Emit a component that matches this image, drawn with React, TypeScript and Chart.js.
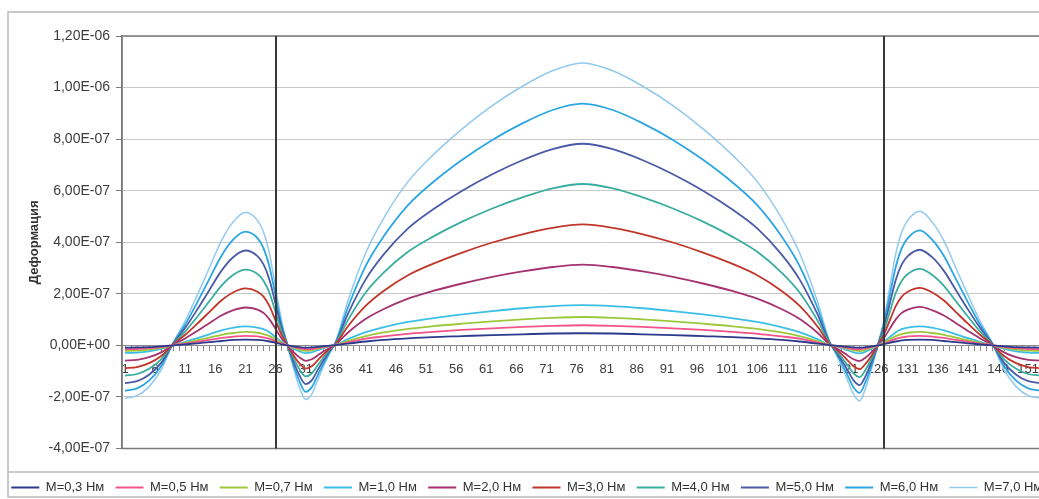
import React, { useEffect, useRef } from 'react';
import { Chart, registerables } from 'chart.js';

Chart.register(...registerables);

// category positions (x) where values were read
const positions = [
  1, 3, 5, 7, 9, 11, 13, 15, 17, 19, 21,
  23, 24, 25, 26, 27, 28, 29, 30, 31, 32, 33, 34, 35, 36,
  38, 41, 44, 48, 52, 57, 62, 67, 72, 77,
  82, 87, 92, 97, 102, 106, 110, 113, 116,
  118, 119, 120, 121, 122, 123, 124, 125, 126, 127, 128, 129, 130, 131,
  133, 135, 137, 139, 141, 143, 145, 147, 149, 151, 153,
];

// values in units of 1e-7
const m03 = [
  -0.09, -0.08, -0.07, -0.04, 0.0, 0.04, 0.08, 0.13, 0.17, 0.21, 0.22,
  0.21, 0.19, 0.15, 0.1, 0.04, 0, -0.04, -0.07, -0.09, -0.08, -0.06, -0.03, -0.01, 0.01,
  0.07, 0.15, 0.21, 0.27, 0.32, 0.36, 0.4, 0.43, 0.46, 0.47,
  0.46, 0.43, 0.4, 0.36, 0.32, 0.27, 0.21, 0.15, 0.07,
  0.01, -0.01, -0.03, -0.06, -0.08, -0.09, -0.07, -0.04, 0, 0.04, 0.1, 0.15, 0.19, 0.21,
  0.22, 0.21, 0.17, 0.13, 0.08, 0.04, 0.0, -0.04, -0.07, -0.08, -0.09,
];
const m05 = [
  -0.15, -0.14, -0.11, -0.07, 0.01, 0.07, 0.14, 0.21, 0.29, 0.34, 0.37,
  0.35, 0.31, 0.25, 0.16, 0.07, 0, -0.06, -0.12, -0.15, -0.14, -0.1, -0.06, -0.02, 0.01,
  0.12, 0.26, 0.35, 0.45, 0.52, 0.6, 0.66, 0.72, 0.76, 0.78,
  0.76, 0.72, 0.66, 0.6, 0.52, 0.45, 0.35, 0.26, 0.12,
  0.01, -0.02, -0.06, -0.1, -0.14, -0.15, -0.12, -0.06, 0, 0.07, 0.16, 0.25, 0.31, 0.35,
  0.37, 0.34, 0.29, 0.21, 0.14, 0.07, 0.01, -0.07, -0.11, -0.14, -0.15,
];
const m07 = [
  -0.21, -0.2, -0.16, -0.1, 0.01, 0.1, 0.2, 0.3, 0.41, 0.48, 0.52,
  0.49, 0.44, 0.36, 0.23, 0.1, 0, -0.09, -0.17, -0.21, -0.19, -0.14, -0.08, -0.03, 0.02,
  0.17, 0.36, 0.5, 0.64, 0.74, 0.84, 0.93, 1.01, 1.07, 1.1,
  1.07, 1.01, 0.93, 0.84, 0.74, 0.64, 0.5, 0.36, 0.17,
  0.02, -0.03, -0.08, -0.14, -0.19, -0.22, -0.17, -0.09, 0, 0.1, 0.23, 0.36, 0.44, 0.49,
  0.52, 0.48, 0.41, 0.3, 0.2, 0.1, 0.01, -0.1, -0.16, -0.2, -0.21,
];
const m10 = [
  -0.29, -0.28, -0.23, -0.14, 0.01, 0.14, 0.28, 0.43, 0.58, 0.69, 0.74,
  0.69, 0.63, 0.51, 0.32, 0.14, 0, -0.13, -0.24, -0.3, -0.27, -0.19, -0.11, -0.04, 0.02,
  0.24, 0.51, 0.71, 0.91, 1.05, 1.2, 1.33, 1.44, 1.52, 1.56,
  1.52, 1.44, 1.33, 1.2, 1.05, 0.91, 0.71, 0.51, 0.24,
  0.02, -0.04, -0.11, -0.19, -0.27, -0.31, -0.24, -0.13, 0, 0.14, 0.32, 0.51, 0.63, 0.69,
  0.74, 0.69, 0.58, 0.43, 0.28, 0.14, 0.01, -0.14, -0.23, -0.28, -0.29,
];
const m20 = [
  -0.59, -0.56, -0.46, -0.27, 0.03, 0.27, 0.56, 0.86, 1.16, 1.37, 1.47,
  1.39, 1.26, 1.01, 0.64, 0.27, 0, -0.26, -0.47, -0.6, -0.54, -0.39, -0.23, -0.09, 0.04,
  0.49, 1.03, 1.41, 1.81, 2.1, 2.4, 2.66, 2.87, 3.04, 3.13,
  3.04, 2.87, 2.66, 2.4, 2.1, 1.81, 1.41, 1.03, 0.49,
  0.04, -0.09, -0.23, -0.39, -0.54, -0.61, -0.47, -0.26, 0, 0.27, 0.64, 1.01, 1.26, 1.39,
  1.49, 1.37, 1.16, 0.86, 0.56, 0.27, 0.03, -0.27, -0.46, -0.56, -0.59,
];
const m30 = [
  -0.88, -0.84, -0.69, -0.41, 0.04, 0.41, 0.84, 1.29, 1.74, 2.06, 2.21,
  2.08, 1.89, 1.52, 0.96, 0.41, 0, -0.39, -0.71, -0.9, -0.81, -0.58, -0.34, -0.13, 0.06,
  0.73, 1.54, 2.12, 2.72, 3.15, 3.6, 3.99, 4.31, 4.56, 4.69,
  4.56, 4.31, 3.99, 3.6, 3.15, 2.72, 2.12, 1.54, 0.73,
  0.06, -0.13, -0.34, -0.58, -0.81, -0.92, -0.71, -0.39, 0, 0.41, 0.96, 1.52, 1.89, 2.08,
  2.23, 2.06, 1.74, 1.29, 0.84, 0.41, 0.04, -0.41, -0.69, -0.84, -0.88,
];
const m40 = [
  -1.17, -1.11, -0.91, -0.54, 0.06, 0.54, 1.11, 1.71, 2.31, 2.74, 2.94,
  2.77, 2.51, 2.03, 1.29, 0.54, 0, -0.51, -0.94, -1.2, -1.09, -0.77, -0.46, -0.17, 0.09,
  0.97, 2.06, 2.83, 3.63, 4.2, 4.8, 5.31, 5.74, 6.09, 6.26,
  6.09, 5.74, 5.31, 4.8, 4.2, 3.63, 2.83, 2.06, 0.97,
  0.09, -0.17, -0.46, -0.77, -1.09, -1.23, -0.94, -0.51, 0, 0.54, 1.29, 2.03, 2.51, 2.77,
  2.97, 2.74, 2.31, 1.71, 1.11, 0.54, 0.06, -0.54, -0.91, -1.11, -1.17,
];
const m50 = [
  -1.46, -1.39, -1.14, -0.68, 0.07, 0.68, 1.39, 2.14, 2.89, 3.43, 3.68,
  3.46, 3.14, 2.54, 1.61, 0.68, 0, -0.64, -1.18, -1.5, -1.36, -0.96, -0.57, -0.21, 0.11,
  1.21, 2.57, 3.54, 4.54, 5.25, 6.0, 6.64, 7.18, 7.61, 7.82,
  7.61, 7.18, 6.64, 6.0, 5.25, 4.54, 3.54, 2.57, 1.21,
  0.11, -0.21, -0.57, -0.96, -1.36, -1.54, -1.18, -0.64, 0, 0.68, 1.61, 2.54, 3.14, 3.46,
  3.71, 3.43, 2.89, 2.14, 1.39, 0.68, 0.07, -0.68, -1.14, -1.39, -1.46,
];
const m60 = [
  -1.76, -1.67, -1.37, -0.81, 0.09, 0.81, 1.67, 2.57, 3.47, 4.11, 4.41,
  4.16, 3.77, 3.04, 1.93, 0.81, 0, -0.77, -1.41, -1.8, -1.63, -1.16, -0.69, -0.26, 0.13,
  1.46, 3.09, 4.24, 5.44, 6.3, 7.2, 7.97, 8.61, 9.13, 9.38,
  9.13, 8.61, 7.97, 7.2, 6.3, 5.44, 4.24, 3.09, 1.46,
  0.13, -0.26, -0.69, -1.16, -1.63, -1.84, -1.41, -0.77, 0, 0.81, 1.93, 3.04, 3.77, 4.16,
  4.46, 4.11, 3.47, 2.57, 1.67, 0.81, 0.09, -0.81, -1.37, -1.67, -1.76,
];
const m70 = [
  -2.05, -1.95, -1.6, -0.95, 0.1, 0.95, 1.95, 3.0, 4.05, 4.8, 5.15,
  4.85, 4.4, 3.55, 2.25, 0.95, 0.0, -0.9, -1.65, -2.1, -1.9, -1.35, -0.8, -0.3, 0.15,
  1.7, 3.6, 4.95, 6.35, 7.35, 8.4, 9.3, 10.05, 10.65, 10.95,
  10.65, 10.05, 9.3, 8.4, 7.35, 6.35, 4.95, 3.6, 1.7,
  0.15, -0.3, -0.8, -1.35, -1.9, -2.15, -1.65, -0.9, 0.0, 0.95, 2.25, 3.55, 4.4, 4.85,
  5.2, 4.8, 4.05, 3.0, 1.95, 0.95, 0.1, -0.95, -1.6, -1.95, -2.05,
];

const seriesValues = [m03, m05, m07, m10, m20, m30, m40, m50, m60, m70];
const seriesLabels = [
  'M=0,3 Нм', 'M=0,5 Нм', 'M=0,7 Нм', 'M=1,0 Нм', 'M=2,0 Нм',
  'M=3,0 Нм', 'M=4,0 Нм', 'M=5,0 Нм', 'M=6,0 Нм', 'M=7,0 Нм',
];
const seriesColors = [
  '#2b3a8c', '#f2548a', '#9dc83c', '#3cbfe6', '#a5336f',
  '#c2362a', '#39ad9f', '#4a5aa6', '#2ba6e2', '#92c9ee',
];
const UNIT = 1e-7;

const categoryCount = 153;
const categories = Array.from({ length: categoryCount }, (_, i) => i + 1);
const xLabelValues = [1, 6, 11, 16, 21, 26, 31, 36, 41, 46, 51, 56, 61, 66, 71, 76, 81, 86, 91, 96, 101, 106, 111, 116, 121, 126, 131, 136, 141, 146, 151];
const yTickValues = [-4e-7, -2e-7, 0, 2e-7, 4e-7, 6e-7, 8e-7, 1e-6, 1.2e-6];
const supports = [26, 127];

const FONT = '"Liberation Sans", Arial, sans-serif';

function fmtSci(v: number): string {
  if (Math.abs(v) < 1e-15) return '0,00E+00';
  const s = v.toExponential(2);
  const [mant, exp] = s.split('e');
  const e = parseInt(exp, 10);
  const sign = e < 0 ? '-' : '+';
  const ea = Math.abs(e).toString().padStart(2, '0');
  return mant.replace('.', ',') + 'E' + sign + ea;
}

const decorPlugin = {
  id: 'decor',
  beforeDraw(chart: any) {
    const { ctx } = chart;
    ctx.save();
    ctx.fillStyle = '#ffffff';
    ctx.fillRect(0, 0, chart.width, chart.height);
    ctx.strokeStyle = '#b8b8b8';
    ctx.lineWidth = 1.5;
    ctx.strokeRect(8, 12, chart.width, 485);
    ctx.beginPath();
    ctx.moveTo(8, 472);
    ctx.lineTo(chart.width, 472);
    ctx.stroke();
    ctx.restore();
  },
  afterDatasetsDraw(chart: any) {
    const { ctx, chartArea, scales } = chart;
    ctx.save();
    ctx.strokeStyle = '#7a7a7a';
    ctx.lineWidth = 1.5;
    ctx.strokeRect(chartArea.left, chartArea.top, chartArea.right - chartArea.left, chartArea.bottom - chartArea.top);
    ctx.strokeStyle = '#383838';
    ctx.lineWidth = 2;
    supports.forEach((s) => {
      const x = Math.round(scales.x.getPixelForValue(s));
      ctx.beginPath();
      ctx.moveTo(x, chartArea.top);
      ctx.lineTo(x, chartArea.bottom);
      ctx.stroke();
    });
    ctx.restore();
  },
};

export default function App() {
  const ref = useRef<HTMLCanvasElement>(null);

  useEffect(() => {
    const datasets = seriesValues.map((vals, i) => ({
      label: seriesLabels[i],
      data: positions.map((x, j) => ({ x, y: vals[j] * UNIT })),
      borderColor: seriesColors[i],
      backgroundColor: seriesColors[i],
      borderWidth: i === 9 ? 1.5 : 1.8,
      pointRadius: 0,
      fill: false,
      cubicInterpolationMode: 'monotone' as const,
    }));

    const chart = new Chart(ref.current as HTMLCanvasElement, {
      type: 'line',
      data: { datasets },
      plugins: [decorPlugin],
      options: {
        animation: false,
        responsive: true,
        maintainAspectRatio: false,
        layout: { padding: { left: 0, right: 0, top: 36, bottom: 0 } },
        plugins: {
          tooltip: { enabled: false },
          legend: {
            position: 'bottom',
            align: 'start',
            title: {
              display: true,
              text: '',
              font: { size: 1 },
              padding: { top: 10, bottom: 10 },
            },
            labels: {
              usePointStyle: true,
              pointStyle: 'line',
              pointStyleWidth: 28,
              padding: 11.3,
              color: '#333333',
              font: { size: 13, family: FONT },
            },
          },
        },
        scales: {
          x: {
            type: 'linear',
            min: 0.5,
            max: 159.6,
            position: { y: 0 } as any,
            afterBuildTicks: (s: any) => {
              s.ticks = categories.map((v) => ({ value: v }));
            },
            ticks: {
              autoSkip: false,
              maxRotation: 0,
              minRotation: 0,
              padding: 11,
              color: '#3c3c3c',
              font: { size: 13, family: FONT },
              callback: (v: any) => (xLabelValues.includes(Number(v)) ? String(v) : ''),
            },
            grid: { drawOnChartArea: false, drawTicks: true, tickLength: 5, tickColor: '#8c8c8c' },
            border: { display: true, color: '#8c8c8c', width: 1 },
          },
          y: {
            min: -4e-7,
            max: 1.2e-6,
            afterBuildTicks: (s: any) => {
              s.ticks = yTickValues.map((v) => ({ value: v }));
            },
            afterFit: (s: any) => {
              s.width = 122;
            },
            ticks: {
              padding: 6,
              color: '#3c3c3c',
              font: { size: 14, family: FONT },
              callback: (v: any) => fmtSci(Number(v)),
            },
            grid: { color: '#c8c8c8', lineWidth: 1, tickLength: 6, tickColor: '#7a7a7a' },
            border: { color: '#7a7a7a', width: 1.5 },
            title: {
              display: true,
              text: 'Деформация',
              color: '#333333',
              font: { size: 13, weight: 'bold', family: FONT },
              padding: { top: 27, bottom: 0 },
            },
          },
        },
      },
    });
    return () => chart.destroy();
  }, []);

  return (
    <div style={{ position: 'fixed', left: 0, top: 0, width: 1039, height: 499, overflow: 'hidden', background: '#fff' }}>
      <div style={{ position: 'absolute', left: 0, top: 0, width: 1080, height: 504 }}>
        <canvas ref={ref} />
      </div>
    </div>
  );
}
